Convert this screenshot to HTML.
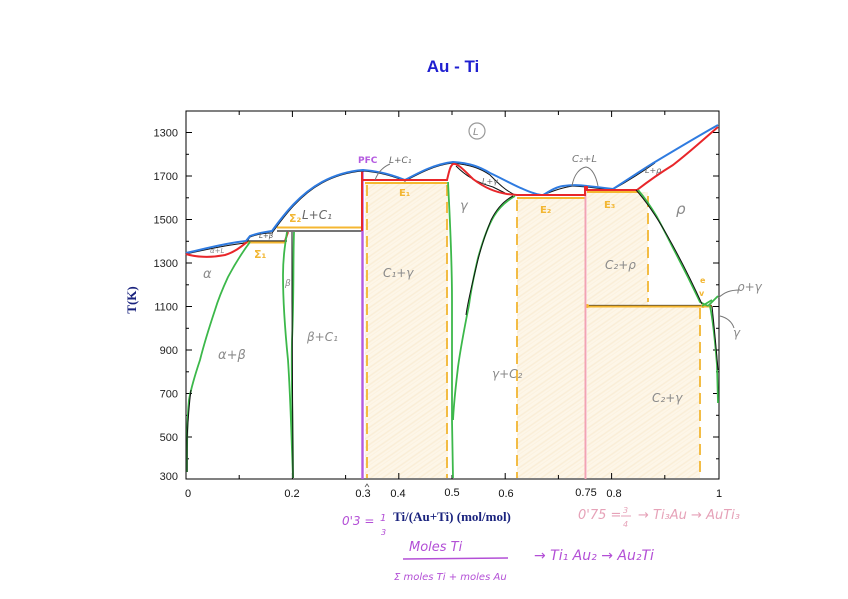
<!DOCTYPE html>
<html><head><meta charset="utf-8"><style>
html,body{margin:0;padding:0;background:#fff;}
svg{display:block;}
</style></head><body>
<svg width="848" height="599" viewBox="0 0 848 599" xmlns="http://www.w3.org/2000/svg">
<defs>
<pattern id="hatch" patternUnits="userSpaceOnUse" width="7" height="7" patternTransform="rotate(-35)">
<rect width="7" height="7" fill="#fdf6e8"/>
<line x1="0" y1="2" x2="7" y2="2" stroke="#faedd6" stroke-width="1.4"/>
<line x1="0" y1="5" x2="7" y2="5" stroke="#fcf1de" stroke-width="1"/>
</pattern>
</defs>
<rect width="848" height="599" fill="#fff"/>

<!-- Title -->
<text x="453" y="72" text-anchor="middle" font-family="Liberation Sans, sans-serif" font-weight="bold" font-size="17" fill="#1f1fd0">Au - Ti</text>

<!-- shaded regions -->
<g fill="url(#hatch)">
<rect x="365" y="183" width="83" height="295"/>
<rect x="517" y="198" width="68" height="280"/>
<rect x="587" y="192" width="61" height="114"/>
<rect x="587" y="306" width="113" height="172"/>
</g>

<!-- axes frame -->
<rect x="186" y="111" width="533" height="368" fill="none" stroke="#000" stroke-width="1"/>
<g stroke="#000" stroke-width="1">
<line x1="186" y1="479" x2="186" y2="473"/><line x1="186" y1="111" x2="186" y2="117"/>
<line x1="239.2" y1="479" x2="239.2" y2="475"/><line x1="239.2" y1="111" x2="239.2" y2="115"/>
<line x1="292.4" y1="479" x2="292.4" y2="473"/><line x1="292.4" y1="111" x2="292.4" y2="117"/>
<line x1="345.6" y1="479" x2="345.6" y2="475"/><line x1="345.6" y1="111" x2="345.6" y2="115"/>
<line x1="398.8" y1="479" x2="398.8" y2="473"/><line x1="398.8" y1="111" x2="398.8" y2="117"/>
<line x1="452" y1="479" x2="452" y2="475"/><line x1="452" y1="111" x2="452" y2="115"/>
<line x1="505.2" y1="479" x2="505.2" y2="473"/><line x1="505.2" y1="111" x2="505.2" y2="117"/>
<line x1="558.4" y1="479" x2="558.4" y2="475"/><line x1="558.4" y1="111" x2="558.4" y2="115"/>
<line x1="611.6" y1="479" x2="611.6" y2="473"/><line x1="611.6" y1="111" x2="611.6" y2="117"/>
<line x1="664.8" y1="479" x2="664.8" y2="475"/><line x1="664.8" y1="111" x2="664.8" y2="115"/>
<line x1="186" y1="132.5" x2="192" y2="132.5"/><line x1="719" y1="132.5" x2="713" y2="132.5"/>
<line x1="186" y1="154.3" x2="189" y2="154.3"/><line x1="719" y1="154.3" x2="716" y2="154.3"/>
<line x1="186" y1="176" x2="192" y2="176"/><line x1="719" y1="176" x2="713" y2="176"/>
<line x1="186" y1="197.8" x2="189" y2="197.8"/><line x1="719" y1="197.8" x2="716" y2="197.8"/>
<line x1="186" y1="219.5" x2="192" y2="219.5"/><line x1="719" y1="219.5" x2="713" y2="219.5"/>
<line x1="186" y1="241.3" x2="189" y2="241.3"/><line x1="719" y1="241.3" x2="716" y2="241.3"/>
<line x1="186" y1="263" x2="192" y2="263"/><line x1="719" y1="263" x2="713" y2="263"/>
<line x1="186" y1="284.8" x2="189" y2="284.8"/><line x1="719" y1="284.8" x2="716" y2="284.8"/>
<line x1="186" y1="306.5" x2="192" y2="306.5"/><line x1="719" y1="306.5" x2="713" y2="306.5"/>
<line x1="186" y1="328.3" x2="189" y2="328.3"/><line x1="719" y1="328.3" x2="716" y2="328.3"/>
<line x1="186" y1="350" x2="192" y2="350"/><line x1="719" y1="350" x2="713" y2="350"/>
<line x1="186" y1="371.8" x2="189" y2="371.8"/><line x1="719" y1="371.8" x2="716" y2="371.8"/>
<line x1="186" y1="393.5" x2="192" y2="393.5"/><line x1="719" y1="393.5" x2="713" y2="393.5"/>
<line x1="186" y1="415.3" x2="189" y2="415.3"/><line x1="719" y1="415.3" x2="716" y2="415.3"/>
<line x1="186" y1="437" x2="192" y2="437"/><line x1="719" y1="437" x2="713" y2="437"/>
<line x1="186" y1="458.8" x2="189" y2="458.8"/><line x1="719" y1="458.8" x2="716" y2="458.8"/>
</g>

<g font-family="Liberation Sans, sans-serif" font-size="11" fill="#222" text-anchor="end">
<text x="178" y="136.5">1300</text>
<text x="178" y="180">1700</text>
<text x="178" y="223.5">1500</text>
<text x="178" y="267">1300</text>
<text x="178" y="310.5">1100</text>
<text x="178" y="354">900</text>
<text x="178" y="397.5">700</text>
<text x="178" y="441">500</text>
<text x="178" y="480">300</text>
</g>
<g font-family="Liberation Sans, sans-serif" font-size="11" fill="#111" text-anchor="middle">
<text x="188" y="497">0</text>
<text x="292" y="497">0.2</text>
<text x="363" y="497">0.3</text>
<text x="398" y="497">0.4</text>
<text x="452" y="496">0.5</text>
<text x="506" y="497">0.6</text>
<text x="586" y="496">0.75</text>
<text x="614" y="497">0.8</text>
<text x="719" y="497">1</text>
</g>
<path d="M365,487 L367,484 L369,487" fill="none" stroke="#555" stroke-width="0.8"/>

<text x="452" y="521" text-anchor="middle" font-family="Liberation Serif, serif" font-weight="bold" font-size="13" fill="#1a237e">Ti/(Au+Ti) (mol/mol)</text>
<text transform="translate(136,300) rotate(-90)" text-anchor="middle" font-family="Liberation Serif, serif" font-weight="bold" font-size="13" fill="#1a237e">T(K)</text>

<g stroke="#f2b632" stroke-width="1.8" stroke-dasharray="11,6" fill="none">
<line x1="367" y1="185" x2="367" y2="478"/>
<line x1="447" y1="185" x2="447" y2="478"/>
<line x1="517" y1="200" x2="517" y2="478"/>
<line x1="648" y1="196" x2="648" y2="302"/>
<line x1="700" y1="308" x2="700" y2="478"/>
</g>

<g stroke="#222" stroke-width="1.3" fill="none">
<line x1="245" y1="241" x2="287" y2="241"/>
<line x1="277" y1="231" x2="362" y2="231"/>
<line x1="587" y1="305.5" x2="712" y2="305.5"/>
</g>

<g stroke="#f5b731" stroke-width="2" fill="none">
<line x1="243" y1="242.5" x2="285" y2="242.5"/>
<line x1="277" y1="227.5" x2="362" y2="227.5"/>
<line x1="365" y1="183" x2="447" y2="183"/>
<line x1="517" y1="198" x2="585" y2="198"/>
<line x1="587" y1="192" x2="640" y2="192"/>
<line x1="587" y1="306.5" x2="712" y2="306.5"/>
</g>
<circle cx="587" cy="306" r="2" fill="#f5b731"/>
<circle cx="703" cy="306" r="2" fill="#f5b731"/>

<line x1="585.5" y1="186" x2="585.5" y2="479" stroke="#f2a3b3" stroke-width="2"/>
<line x1="362.5" y1="170" x2="362.5" y2="479" stroke="#b45ae0" stroke-width="2.4"/>

<path d="M186,254 C200,251 225,245 246,243 L250,237 C258,234 266,233 272,233 C285,215 300,195 322,183 C335,176 350,172 363,171 C380,172 395,177 405,181 C420,173 435,165 453,163 C470,165 480,168 490,175 C500,185 505,190 515,195" fill="none" stroke="#111" stroke-width="1"/>
<path d="M543,195 C555,190 565,187 573,186 L587,187 L612,190 C630,180 645,170 655,163" fill="none" stroke="#111" stroke-width="1"/>
<path d="M456,166 C465,175 475,182 493,187 L505,193" fill="none" stroke="#111" stroke-width="1"/>

<path d="M186,253 C200,250 225,243 246,241 L250,236 C258,233 266,232 272,231 C285,213 300,194 322,182 C335,175 350,171 363,170 C380,171 395,176 405,180 C420,172 435,164 453,162 C470,163 480,167 490,173 C505,180 515,186 523,189 C532,193 538,195 543,195 C550,191 556,187 563,186 C570,185 580,185 587,186 C597,187 605,188 613,189 C630,178 645,168 655,162 C675,150 700,135 718,125" fill="none" stroke="#2f7be0" stroke-width="2"/>

<g fill="none" stroke="#e8262a" stroke-width="2">
<path d="M186,254 C195,257 210,258 225,255 C235,252 242,246 247,242"/>
<path d="M285,241 L288,232"/>
<path d="M362,231 L362,172"/>
<path d="M363,180 L447,180 C449,172 450,166 453,164 C457,163 462,168 473,179 C485,188 495,192 507,194 L517,195 L585,195 L585,187 L587,187 L587,190 L637,190 C650,180 660,173 673,165 C690,152 705,138 718,127"/>
</g>

<g fill="none" stroke="#3cb84a" stroke-width="1.8">
<path d="M250,242 C244,250 236,262 228,277 C222,290 218,300 215,310 C210,325 205,340 200,360 C195,375 191,388 189,400 C187,420 187,445 187,472"/>
<path d="M287,232 C285,245 283,258 283,275 C283,300 285,330 288,360 C290,390 291,420 292,450 L293,478"/>
<path d="M294,232 C293,260 294,300 292,340 C291,380 293,420 293,478"/>
<path d="M448,182 C450,220 452,260 452,300 C452,340 452,380 452,420 L453,478"/>
<path d="M515,196 C508,200 500,206 494,216 C488,226 483,240 478,258 C474,275 471,290 469,305 C465,325 461,345 458,367 C456,385 454,400 453,420"/>
<path d="M638,190 C645,198 651,207 657,217 C663,228 668,238 673,248 C682,265 692,285 700,302 L708,306"/>
<path d="M710,306 C713,320 715,340 717,365 L718,403"/>
<path d="M708,306 L718,296"/>
<path d="M702,306 L712,300"/>
</g>
<g fill="none" stroke="#111" stroke-width="1">
<path d="M292,232 L292,300 L293,478"/>
<path d="M513,196 C505,200 497,208 491,220 C485,235 480,250 476,268 C472,285 468,300 466,315"/>
<path d="M636,190 C645,200 655,214 667,235 C680,258 692,282 702,304"/>
<path d="M712,306 C714,325 716,345 718,370"/>
<path d="M187,472 L187,440 C188,420 189,405 191,390"/>
</g>

<g fill="none" stroke="#777" stroke-width="1">
<path d="M375,180 C378,172 383,167 390,164"/>
<path d="M572,186 C574,174 580,168 586,167 C592,168 596,176 598,186"/>
<path d="M718,298 C725,292 730,290 740,290"/>
<path d="M720,316 C728,318 732,322 734,328"/>
</g>
<circle cx="477" cy="131" r="8" fill="none" stroke="#999" stroke-width="1.2"/>

<g font-family="DejaVu Sans, sans-serif" font-style="italic" fill="#8a8a8a" font-size="12">
<text x="473" y="135" font-size="10">L</text>
<text x="210" y="253" font-size="7">α+L</text>
<text x="259" y="238" font-size="7" fill="#555">L+β</text>
<text x="203" y="278" font-size="13">α</text>
<text x="285" y="286" font-size="9">β</text>
<text x="218" y="359" font-size="13">α+β</text>
<text x="307" y="341" font-size="12">β+C₁</text>
<text x="302" y="219" font-size="12" fill="#666">L+C₁</text>
<text x="389" y="163" font-size="9" fill="#666">L+C₁</text>
<text x="383" y="277" font-size="12">C₁+γ</text>
<text x="460" y="210" font-size="13">γ</text>
<text x="482" y="184" font-size="8" fill="#666">L+γ</text>
<text x="572" y="162" font-size="10" fill="#777">C₂+L</text>
<text x="645" y="173" font-size="8" fill="#666">L+ρ</text>
<text x="676" y="214" font-size="15">ρ</text>
<text x="605" y="269" font-size="12">C₂+ρ</text>
<text x="492" y="378" font-size="12">γ+C₂</text>
<text x="652" y="402" font-size="12">C₂+γ</text>
<text x="737" y="291" font-size="12">ρ+γ</text>
<text x="733" y="337" font-size="12">γ</text>
</g>

<g font-family="DejaVu Sans, sans-serif" fill="#f2b632" font-weight="bold">
<text x="254" y="258" font-size="11">Σ₁</text>
<text x="289" y="222" font-size="11">Σ₂</text>
<text x="399" y="196" font-size="10">E₁</text>
<text x="540" y="213" font-size="10">E₂</text>
<text x="604" y="208" font-size="10">E₃</text>
<text x="700" y="283" font-size="8">e</text>
<text x="699" y="296" font-size="8">v</text>
</g>
<text x="358" y="163" font-family="DejaVu Sans, sans-serif" font-size="9" font-weight="bold" fill="#b45ae0">PFC</text>

<g font-family="DejaVu Sans, sans-serif" font-style="italic" fill="#b34fd6">
<text x="342" y="525" font-size="12">0'3 =</text>
<text x="380" y="521" font-size="10">1</text>
<text x="381" y="535" font-size="8">3</text>
<text x="409" y="551" font-size="13">Moles Ti</text>
<text x="394" y="580" font-size="10">Σ moles Ti + moles Au</text>
<text x="534" y="560" font-size="14">→ Ti₁ Au₂ → Au₂Ti</text>
</g>
<line x1="403" y1="559" x2="508" y2="558" stroke="#b34fd6" stroke-width="1.6"/>

<g font-family="DejaVu Sans, sans-serif" font-style="italic" fill="#e6a2b8">
<text x="578" y="519" font-size="13">0'75 =</text>
<text x="623" y="513" font-size="8">3</text>
<text x="623" y="527" font-size="8">4</text>
<text x="638" y="519" font-size="13">→ Ti₃Au → AuTi₃</text>
</g>
<line x1="621" y1="516" x2="631" y2="516" stroke="#e6a2b8" stroke-width="1"/>
</svg>
</body></html>
